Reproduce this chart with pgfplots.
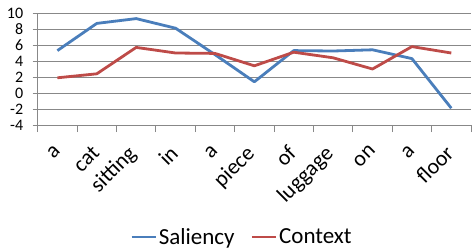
\documentclass[border=0pt]{standalone}
\usepackage{graphicx}
\usepackage{pgfplots}
\pgfplotsset{compat=1.18}
\usepackage{fontspec}
\setmainfont{Carlito}
\definecolor{salblue}{HTML}{4A7EBB}
\definecolor{ctxred}{HTML}{BE4B48}
\definecolor{gridgray}{HTML}{888888}
\newcommand{\rl}[1]{\rotatebox{45}{#1}}
\begin{document}
\begin{tikzpicture}
\useasboundingbox (-37.7pt,-125pt) rectangle (438.3pt,125pt);
\begin{axis}[
  at={(0,0)}, anchor=south west,
  scale only axis,
  width=433.3pt, height=112pt,
  xmin=-0.5, xmax=10.5,
  ymin=-4, ymax=10,
  ytick={-4,-2,...,10},
  xtick={0,...,10},
  xticklabels={\rl{a},\rl{cat},\rl{sitting},\rl{in},\rl{a},\rl{piece},\rl{of},\rl{luggage},\rl{on},\rl{a},\rl{floor}},
  minor xtick={-0.5,0.5,...,10.5},
  major x tick style={draw=none},
  minor x tick style={gridgray, line width=0.8pt},
  y tick style={gridgray, line width=0.8pt},
  tick align=outside,
  minor tick length=7pt,
  major tick length=5pt,
  ymajorgrids,
  grid style={gridgray, line width=0.8pt},
  axis x line*=bottom,
  axis y line*=left,
  axis line style={gridgray, line width=0.8pt},
  every outer x axis line/.append style={-},
  every outer y axis line/.append style={-},
  separate axis lines,
  y tick label style={font=\fontsize{16}{19}\selectfont, xshift=-6pt},
  x tick label style={font=\fontsize{22}{26}\selectfont, anchor=north east, inner sep=0pt, xshift=4pt, yshift=-14pt},
  /pgf/number format/assume math mode=true,
  legend style={at={(0.4715,-1.0)}, anchor=center, draw=none, legend columns=2,
    font=\fontsize{23}{27}\selectfont,
    /tikz/every even column/.append style={column sep=14pt}},
  legend image code/.code={\draw[#1, line width=2.5pt] (0pt,0pt) -- (24pt,0pt);},
  clip=false,
]
\addplot[salblue, line width=2.8pt, line join=round] coordinates {
 (0,5.3) (1,8.7) (2,9.3) (3,8.1) (4,4.8) (5,1.4) (6,5.3) (7,5.25) (8,5.4) (9,4.3) (10,-1.9)};
\addlegendentry{Saliency}
\addplot[ctxred, line width=2.8pt, line join=round] coordinates {
 (0,1.9) (1,2.4) (2,5.7) (3,5.0) (4,4.95) (5,3.4) (6,5.1) (7,4.4) (8,3.0) (9,5.8) (10,5.0)};
\addlegendentry{Context}
\end{axis}
\end{tikzpicture}
\end{document}
